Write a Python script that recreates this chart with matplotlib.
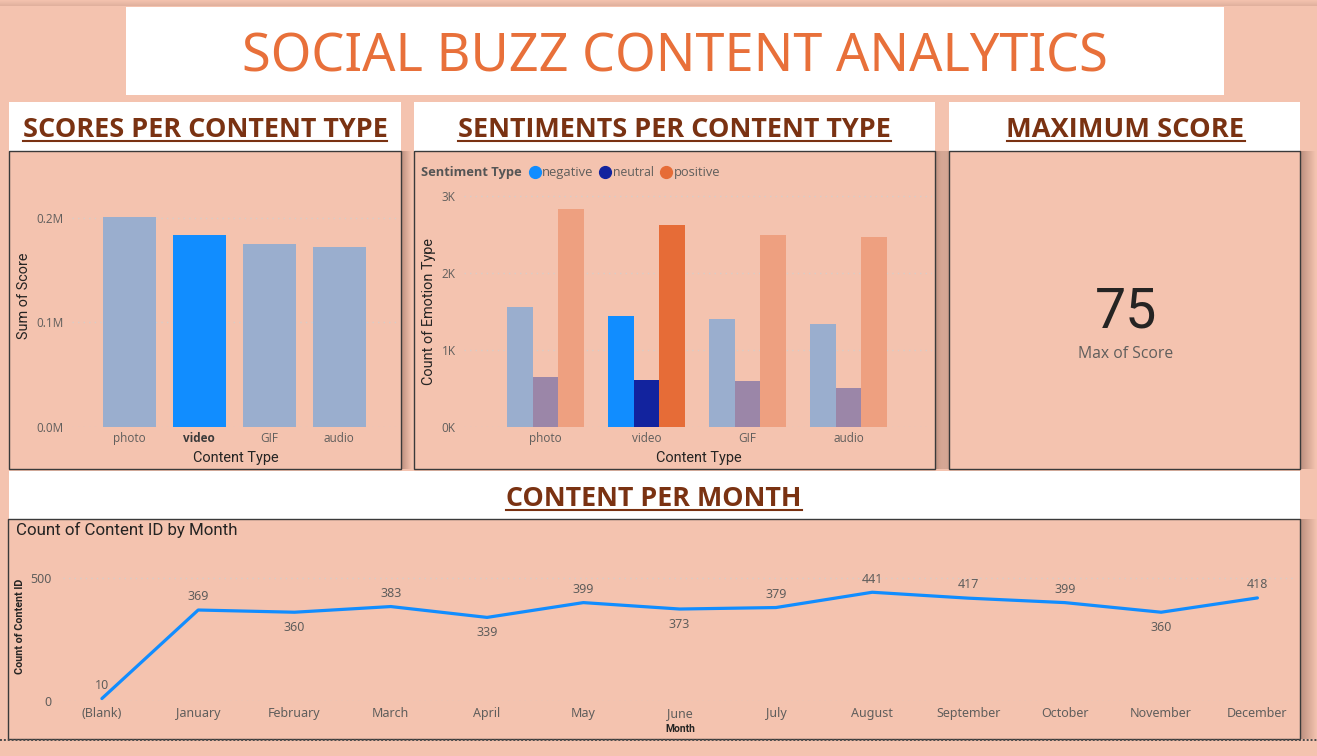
import matplotlib
matplotlib.use('Agg')
import matplotlib.pyplot as plt
from matplotlib.patches import Rectangle
from matplotlib.lines import Line2D
from matplotlib.ticker import FuncFormatter
import numpy as np

# ---------------- data ----------------
content_types = ['photo', 'video', 'GIF', 'audio']
score_sums = [200400, 183400, 175100, 172000]
sentiment_types = ['negative', 'neutral', 'positive']
negative_counts = [1553, 1440, 1397, 1332]
neutral_counts = [642, 603, 594, 503]
positive_counts = [2831, 2619, 2493, 2463]
months = ['(Blank)', 'January', 'February', 'March', 'April', 'May', 'June',
          'July', 'August', 'September', 'October', 'November', 'December']
content_counts = [10, 369, 360, 383, 339, 399, 373, 379, 441, 417, 399, 360, 418]
label_above = [True, True, False, True, False, True, False, True, True, True, True, False, True]
max_score = 75
highlighted_type = 'video'

# ---------------- style ----------------
W, H = 1317, 756
BG = '#F4C3AF'
TITLE_C = '#E8703A'
HEAD_C = '#7A3212'
TICK_C = '#605E5C'
DARK = '#252423'
GRID_C = '#D8CDC8'
full_cols = {'negative': '#118DFF', 'neutral': '#12239E', 'positive': '#E66C37'}
dim_cols = {'negative': '#9AAECE', 'neutral': '#9B86A8', 'positive': '#EEA080'}

fig = plt.figure(figsize=(W / 100, H / 100), dpi=100, facecolor=BG)


def fx(x):
    return x / W


def fy(y):
    return 1 - y / H


def rect(x0, y0, x1, y1, **kw):
    r = Rectangle((fx(x0), fy(y1)), (x1 - x0) / W, (y1 - y0) / H,
                  transform=fig.transFigure, **kw)
    fig.add_artist(r)
    return r


def axes_px(x0, y0, x1, y1, **kw):
    return fig.add_axes([fx(x0), fy(y1), (x1 - x0) / W, (y1 - y0) / H], **kw)


def shadow(x0, y0, x1, y1, fade='right', strength=0.42, vertical=False):
    a = axes_px(x0, y0, x1, y1, zorder=0.3)
    a.axis('off')
    n = 40
    al = np.linspace(strength, 0, n)
    if fade in ('left', 'up'):
        al = al[::-1]
    if vertical:
        img = np.zeros((n, 1, 4))
        img[:, 0, 3] = al[::-1] if fade == 'down' else al
    else:
        img = np.zeros((1, n, 4))
        img[0, :, 3] = al
    img[..., 0:3] = (0.42, 0.27, 0.22)
    a.imshow(img, aspect='auto', extent=(0, 1, 0, 1), interpolation='bilinear')
    a.set_xlim(0, 1)
    a.set_ylim(0, 1)


# top faint shadow
shadow(0, 0, W, 6, fade='down', strength=0.15, vertical=True)

# title box
rect(126, 7, 1224, 95, facecolor='white', edgecolor='none', zorder=0.5)
title = fig.text(fx(675), fy(71.7), 'SOCIAL BUZZ CONTENT ANALYTICS', ha='center', va='baseline',
                 color=TITLE_C, fontsize=40, family=['Noto Sans', 'Open Sans', 'DejaVu Sans'],
                 weight='light', fontstretch='condensed', zorder=3)

# panels: header white + chart box
panels = [(9, 401), (414, 935), (949, 1300)]
for (a, b) in panels:
    rect(a, 102, b, 150.5, facecolor='white', edgecolor='none', zorder=0.5)
    rect(a, 150.5, b, 469, facecolor=BG, edgecolor='#3A3A3A', lw=1.0, zorder=0.6)
rect(9, 471, 1300, 518.5, facecolor='white', edgecolor='none', zorder=0.5)
rect(7.5, 518.5, 1300, 739, facecolor=BG, edgecolor='#3A3A3A', lw=1.0, zorder=0.6)

# shadows
shadow(401, 151, 412, 469, 'right')
shadow(935, 151, 947, 469, 'right')
shadow(940, 151, 949, 469, 'left', strength=0.3)
shadow(1300, 151, 1316, 469, 'right')
shadow(1300, 519, 1317, 739, 'right')

# dotted line at bottom
fig.add_artist(Line2D([0, 1], [fy(740), fy(740)], transform=fig.transFigure,
                      color='#4A4A4A', lw=1.4, linestyle=(0, (1, 1)), zorder=2))

headers = [
    ('SCORES PER CONTENT TYPE', 205, 137, 364),
    ('SENTIMENTS PER CONTENT TYPE', 674.5, 137, 433),
    ('MAXIMUM SCORE', 1125.5, 137, 237),
    ('CONTENT PER MONTH', 654, 506, 296),
]
header_texts = []
for txt, cx, by, wdt in headers:
    t = fig.text(fx(cx), fy(by), txt, ha='center', va='baseline', color=HEAD_C,
                 fontsize=19, weight='bold', family=['Open Sans', 'DejaVu Sans'], zorder=3)
    header_texts.append((t, by, wdt))

TICKFONT = ['Open Sans', 'DejaVu Sans']
AXFONT = ['Roboto', 'DejaVu Sans']
MONTHFONT = ['Noto Sans', 'Roboto', 'DejaVu Sans']


def style_axes(ax):
    ax.set_facecolor('none')
    for s in ax.spines.values():
        s.set_visible(False)
    ax.tick_params(length=0)
    ax.yaxis.grid(True, linestyle=(0, (1, 3)), color=GRID_C, lw=1.0)
    ax.set_axisbelow(True)


# ---------------- chart 1: scores per content type ----------------
ax1 = axes_px(71.7, 185, 396.7, 426.7, zorder=1)
style_axes(ax1)
x = np.arange(len(content_types))
cols1 = [full_cols['negative'] if c == highlighted_type else dim_cols['negative'] for c in content_types]
ax1.bar(x, score_sums, width=0.764, color=cols1)
ax1.set_xlim(-0.823, 3.82)
ax1.set_ylim(0, 231300)
ax1.set_yticks([0, 100000, 200000])
ax1.yaxis.set_major_formatter(FuncFormatter(lambda v, p: f'{v / 1e6:.1f}M'))
ax1.set_xticks(x, content_types)
ax1.tick_params(axis='x', pad=4, labelsize=8.5, labelcolor=TICK_C)
ax1.tick_params(axis='y', pad=6, labelsize=8.5, labelcolor=TICK_C)
for lab in ax1.get_xticklabels():
    lab.set_family(TICKFONT)
    if lab.get_text() == highlighted_type:
        lab.set_weight('bold')
        lab.set_color('#3A3A3A')
for lab in ax1.get_yticklabels():
    lab.set_family(TICKFONT)
xl1 = ax1.set_xlabel('Content Type', family=AXFONT, fontsize=10, color=DARK)
yl1 = ax1.set_ylabel('Sum of Score', family=AXFONT, fontsize=10, color=DARK)
ax1.xaxis.set_label_coords((235.5 - 71.7) / 325, -(451 - 426.7) / 241.7)
ax1.yaxis.set_label_coords((31 - 71.7) / 325, (426.7 - 296) / 241.7)

# ---------------- chart 2: sentiments per content type ----------------
ax2 = axes_px(464, 190, 932, 426.7, zorder=1)
style_axes(ax2)
bw = 0.255
series = [negative_counts, neutral_counts, positive_counts]
for k, (name, vals) in enumerate(zip(sentiment_types, series)):
    cols = [full_cols[name] if c == highlighted_type else dim_cols[name] for c in content_types]
    ax2.bar(x + (k - 1) * bw, vals, width=bw, color=cols)
ax2.set_xlim(-0.808, 3.826)
ax2.set_ylim(0, 3078)
ax2.set_yticks([0, 1000, 2000, 3000])
ax2.yaxis.set_major_formatter(FuncFormatter(lambda v, p: f'{v / 1000:.0f}K'))
ax2.set_xticks(x, content_types)
ax2.tick_params(axis='x', pad=4, labelsize=8.5, labelcolor=TICK_C)
ax2.tick_params(axis='y', pad=6, labelsize=8.5, labelcolor=TICK_C)
for lab in ax2.get_xticklabels() + ax2.get_yticklabels():
    lab.set_family(TICKFONT)
xl2 = ax2.set_xlabel('Content Type', family=AXFONT, fontsize=10, color=DARK)
yl2 = ax2.set_ylabel('Count of Emotion Type', family=AXFONT, fontsize=10, color=DARK)
ax2.xaxis.set_label_coords((698.5 - 464) / 468, -(451 - 426.7) / 236.7)
ax2.yaxis.set_label_coords((436 - 464) / 468, (426.7 - 311.5) / 236.7)

# legend (manual, Power BI style)
leg_title = fig.text(fx(421), fy(172.3), 'Sentiment Type', ha='left', va='center', weight='bold',
                     color='#555555', fontsize=9, family=TICKFONT, zorder=3)
leg_items = [('negative', 535, 541.8), ('neutral', 605.4, 612.8), ('positive', 666, 673.7)]
leg_texts = []
for name, cxm, tx in leg_items:
    fig.add_artist(Line2D([fx(cxm)], [fy(172)], marker='o', markersize=8.5, color=full_cols[name],
                          linestyle='none', transform=fig.transFigure, zorder=3))
    leg_texts.append(fig.text(fx(tx), fy(172.3), name, ha='left', va='center', color=TICK_C,
                              fontsize=9, family=TICKFONT, zorder=3))

# ---------------- card: maximum score ----------------
big = fig.text(fx(1125.7), fy(327.7), str(max_score), ha='center', va='baseline', color=DARK,
               fontsize=40, family=['Roboto', 'DejaVu Sans'], zorder=3)
card_lab = fig.text(fx(1126), fy(357.5), 'Max of Score', ha='center', va='baseline', color=TICK_C,
                    fontsize=11, family=TICKFONT, zorder=3)

# ---------------- chart 3: content per month ----------------
ax3 = axes_px(63, 560, 1294, 701, zorder=1)
style_axes(ax3)
xm = np.arange(len(months))
ax3.plot(xm, content_counts, color='#118DFF', lw=2.3, solid_joinstyle='round',
         solid_capstyle='round', clip_on=False)
ax3.set_xlim(-0.404, 12.38)
ax3.set_ylim(0, 571.8)
ax3.set_yticks([0, 500])
ax3.set_xticks(xm, months)
ax3.tick_params(axis='x', pad=4.5, labelsize=9, labelcolor=TICK_C)
ax3.tick_params(axis='y', pad=8, labelsize=9, labelcolor=TICK_C)
for lab in ax3.get_xticklabels() + ax3.get_yticklabels():
    lab.set_family(MONTHFONT)
    lab.set_fontstretch('semi-condensed')
for i, v in enumerate(content_counts):
    ax3.annotate(str(v), (i, v), xytext=(0, 9.5 if label_above[i] else -11.2),
                 textcoords='offset points', ha='center', va='center', fontsize=9,
                 color=TICK_C, family=MONTHFONT, fontstretch='semi-condensed',
                 annotation_clip=False)
xl3 = ax3.set_xlabel('Month', family=AXFONT, fontsize=7, color=DARK, weight='bold')
yl3 = ax3.set_ylabel('Count of Content ID', family=AXFONT, fontsize=7, color=DARK, weight='bold')
ax3.xaxis.set_label_coords((680 - 63) / 1231, -(724 - 701) / 141)
ax3.yaxis.set_label_coords((25 - 63) / 1231, (701 - 626) / 141)
chart3_title = fig.text(fx(15.6), fy(535), 'Count of Content ID by Month', ha='left', va='baseline',
                        color=DARK, fontsize=10.5, family=AXFONT, zorder=3)

# ---------------- fit text sizes to measured extents ----------------
renderer = fig.canvas.get_renderer()


def fit(t, target, dim='w'):
    bb = t.get_window_extent(renderer)
    cur = bb.width if dim == 'w' else bb.height
    if cur > 0:
        t.set_fontsize(t.get_fontsize() * target / cur)


fit(title, 866)
for t, by, wdt in header_texts:
    fit(t, wdt)
fit(xl1, 86)
fit(yl1, 86, 'h')
fit(xl2, 86)
fit(yl2, 147, 'h')
fit(leg_title, 100)
for t, w in zip(leg_texts, [52, 42, 47]):
    fit(t, w)
fit(card_lab, 95)
fit(chart3_title, 222)
fit(xl3, 30)
fit(yl3, 96, 'h')

# underlines for headers
for t, by, wdt in header_texts:
    bb = t.get_window_extent(renderer)
    fig.add_artist(Line2D([bb.x0 / W, bb.x1 / W], [fy(by + 3.8), fy(by + 3.8)],
                          transform=fig.transFigure, color=HEAD_C, lw=1.5, zorder=3))

fig.savefig('out.png', dpi=100, facecolor=BG)
